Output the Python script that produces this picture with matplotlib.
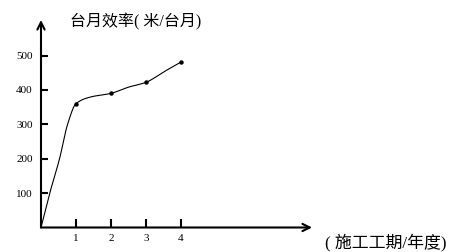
import matplotlib
matplotlib.use("Agg")
import matplotlib.pyplot as plt
import numpy as np

# values
years = [1, 2, 3, 4]
efficiency = [360, 390, 422, 481]

# shape of the drawn curve between the marked points
curve_x = [0, 0.25, 0.53, 0.76, 1, 1.4, 2, 2.5, 3, 3.5, 4]
curve_y = [0, 100, 200, 300, 360, 379, 390, 408, 422, 452, 481]

y_ticks = [100, 200, 300, 400, 500]
x_ticks = [1, 2, 3, 4]

y_title = "台月效率( 米/台月)"
x_title = "( 施工工期/年度)"

fonts = ["Liberation Serif", "Noto Sans CJK SC", "DejaVu Sans"]


def smooth(x, y, n=40):
    # monotone cubic (Fritsch-Carlson) so the line has no wiggles
    x = np.asarray(x, float)
    y = np.asarray(y, float)
    h = np.diff(x)
    d = np.diff(y) / h
    m = np.zeros_like(y)
    m[0], m[-1] = d[0], d[-1]
    for k in range(1, len(x) - 1):
        if d[k - 1] * d[k] > 0:
            w1 = 2 * h[k] + h[k - 1]
            w2 = h[k] + 2 * h[k - 1]
            m[k] = (w1 + w2) / (w1 / d[k - 1] + w2 / d[k])
    xs, ys = [], []
    for k in range(len(x) - 1):
        s = np.linspace(0, 1, n)
        h00 = 2 * s**3 - 3 * s**2 + 1
        h10 = s**3 - 2 * s**2 + s
        h01 = -2 * s**3 + 3 * s**2
        h11 = s**3 - s**2
        xs.extend(x[k] + s * h[k])
        ys.extend(h00 * y[k] + h10 * h[k] * m[k] + h01 * y[k + 1] + h11 * h[k] * m[k + 1])
    return xs, ys


fig = plt.figure(figsize=(4.65, 2.52), dpi=100)
W, H = 465, 252
ox, oy = 41, 227.5
xunit, yunit = 35, 0.344
xmax = (312 - ox) / xunit
ymax = (oy - 20) / yunit
ax = fig.add_axes([ox / W, (H - oy) / H, (312 - ox) / W, (oy - 20) / H])
ax.set_xlim(0, xmax)
ax.set_ylim(0, ymax)
for s in ax.spines.values():
    s.set_visible(False)

xs, ys = smooth(curve_x, curve_y)
ax.plot(xs, ys, color="black", lw=0.8, clip_on=False)
ax.plot(years, efficiency, "o", color="black", ms=2.2)

# axes with open arrow heads
for tip in [(xmax, 0), (0, ymax)]:
    ax.annotate("", xy=tip, xytext=(0, 0),
                arrowprops=dict(arrowstyle="->", lw=1.5, color="black",
                                shrinkA=0, shrinkB=0, mutation_scale=13),
                annotation_clip=False)

ax.set_xticks(x_ticks)
ax.set_yticks(y_ticks)
ax.tick_params(axis="y", direction="in", length=5, width=1.5, pad=6,
               labelsize=8)
ax.tick_params(axis="x", direction="in", length=6.5, width=1.5, pad=5,
               labelsize=8)
for lab in ax.get_xticklabels() + ax.get_yticklabels():
    lab.set_family(fonts)

fig.text(70 / W, 1 - 22 / H, y_title, family=fonts, fontsize=11.5,
         ha="left", va="center")
fig.text(325 / W, 1 - 242 / H, x_title, family=fonts, fontsize=12.2,
         ha="left", va="center")

fig.savefig("out.png", dpi=100, facecolor="white")
